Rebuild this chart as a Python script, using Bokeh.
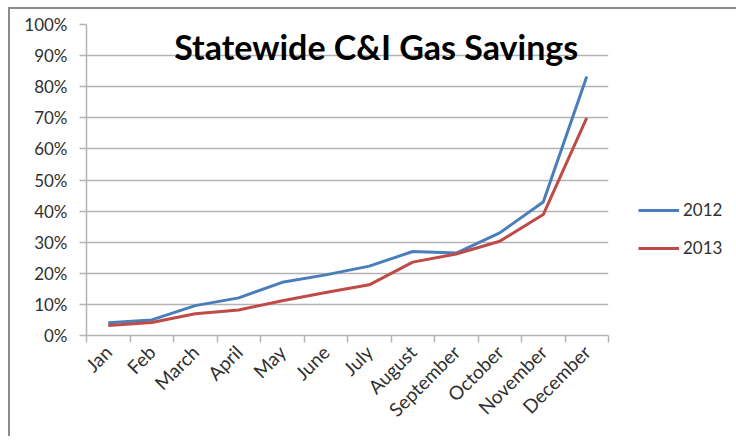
import math
from bokeh.plotting import figure
from bokeh.models import (Range1d, FixedTicker, NumeralTickFormatter, Legend, LegendItem, Label)
from bokeh.embed import file_html
from bokeh.resources import INLINE

months = ["Jan", "Feb", "March", "April", "May", "June", "July", "August",
          "September", "October", "November", "December"]
savings_2012 = [0.041, 0.050, 0.096, 0.121, 0.171, 0.195, 0.223, 0.270,
                0.265, 0.330, 0.429, 0.833]
savings_2013 = [0.032, 0.042, 0.070, 0.082, 0.112, 0.138, 0.163, 0.236,
                0.262, 0.303, 0.389, 0.700]
y_ticks = [0.0, 0.1, 0.2, 0.3, 0.4, 0.5, 0.6, 0.7, 0.8, 0.9, 1.0]
title_text = "Statewide C&I Gas Savings"

n = len(months)
xs = [i + 0.5 for i in range(n)]

FONT = "Lato"
GRID = "#b3b3b3"
TXT = "#303030"

p = figure(frame_width=522, frame_height=311, output_backend="svg", toolbar_location=None,
           x_range=Range1d(0, n), y_range=Range1d(0, 1),
           min_border_left=76, min_border_right=0, min_border_top=15, min_border_bottom=101)
p.outline_line_color = None
p.background_fill_color = "white"
p.border_fill_color = "white"
p.styles = {"border-top": "2px solid #8c8c8c", "border-left": "2px solid #8c8c8c",
            "margin-left": "8px", "margin-top": "7px"}

# y axis
p.yaxis.ticker = FixedTicker(ticks=y_ticks, minor_ticks=[])
p.yaxis.formatter = NumeralTickFormatter(format="0%")
p.yaxis.axis_line_color = GRID
p.yaxis.axis_line_width = 1.5
p.yaxis.major_tick_line_color = GRID
p.yaxis.major_tick_line_width = 1.5
p.yaxis.major_tick_in = 0
p.yaxis.major_tick_out = 7
p.yaxis.minor_tick_line_color = None
p.yaxis.major_label_text_font = FONT
p.yaxis.major_label_text_font_size = "17px"
p.yaxis.major_label_text_color = TXT
p.yaxis.major_label_standoff = 12

# x axis
p.xaxis.ticker = FixedTicker(ticks=xs, minor_ticks=list(range(n + 1)))
p.xaxis.major_label_overrides = {x: m for x, m in zip(xs, months)}
p.xaxis.axis_line_color = GRID
p.xaxis.axis_line_width = 1.5
p.xaxis.major_tick_line_color = None
p.xaxis.minor_tick_line_color = GRID
p.xaxis.minor_tick_line_width = 1.5
p.xaxis.minor_tick_in = 0
p.xaxis.minor_tick_out = 7
p.xaxis.major_label_orientation = math.pi / 4
p.xaxis.major_label_text_font = FONT
p.xaxis.major_label_text_font_size = "19px"
p.xaxis.major_label_text_color = TXT
p.xaxis.major_label_standoff = 6

p.xgrid.grid_line_color = None
p.ygrid.grid_line_color = GRID
p.ygrid.grid_line_width = 1.5

r1 = p.line(xs, savings_2012, line_color="#4a7ebb", line_width=3)
r2 = p.line(xs, savings_2013, line_color="#be4b48", line_width=3)

title = Label(x=n * 0.555, y=0.93, text=title_text, text_align="center",
              text_baseline="alphabetic", text_font=FONT, text_font_style="bold",
              text_font_size="34px", text_color="black")
p.add_layout(title)

legend = Legend(items=[LegendItem(label="2012", renderers=[r1]),
                       LegendItem(label="2013", renderers=[r2])],
                location=(30, 77), orientation="vertical",
                glyph_width=41, glyph_height=20, label_height=20, spacing=17,
                label_standoff=4, padding=0, margin=0,
                border_line_color=None, background_fill_alpha=0,
                label_text_font=FONT, label_text_font_size="17px", label_text_color=TXT)
p.add_layout(legend, "right")

open("out.html", "w").write(file_html(p, INLINE))
